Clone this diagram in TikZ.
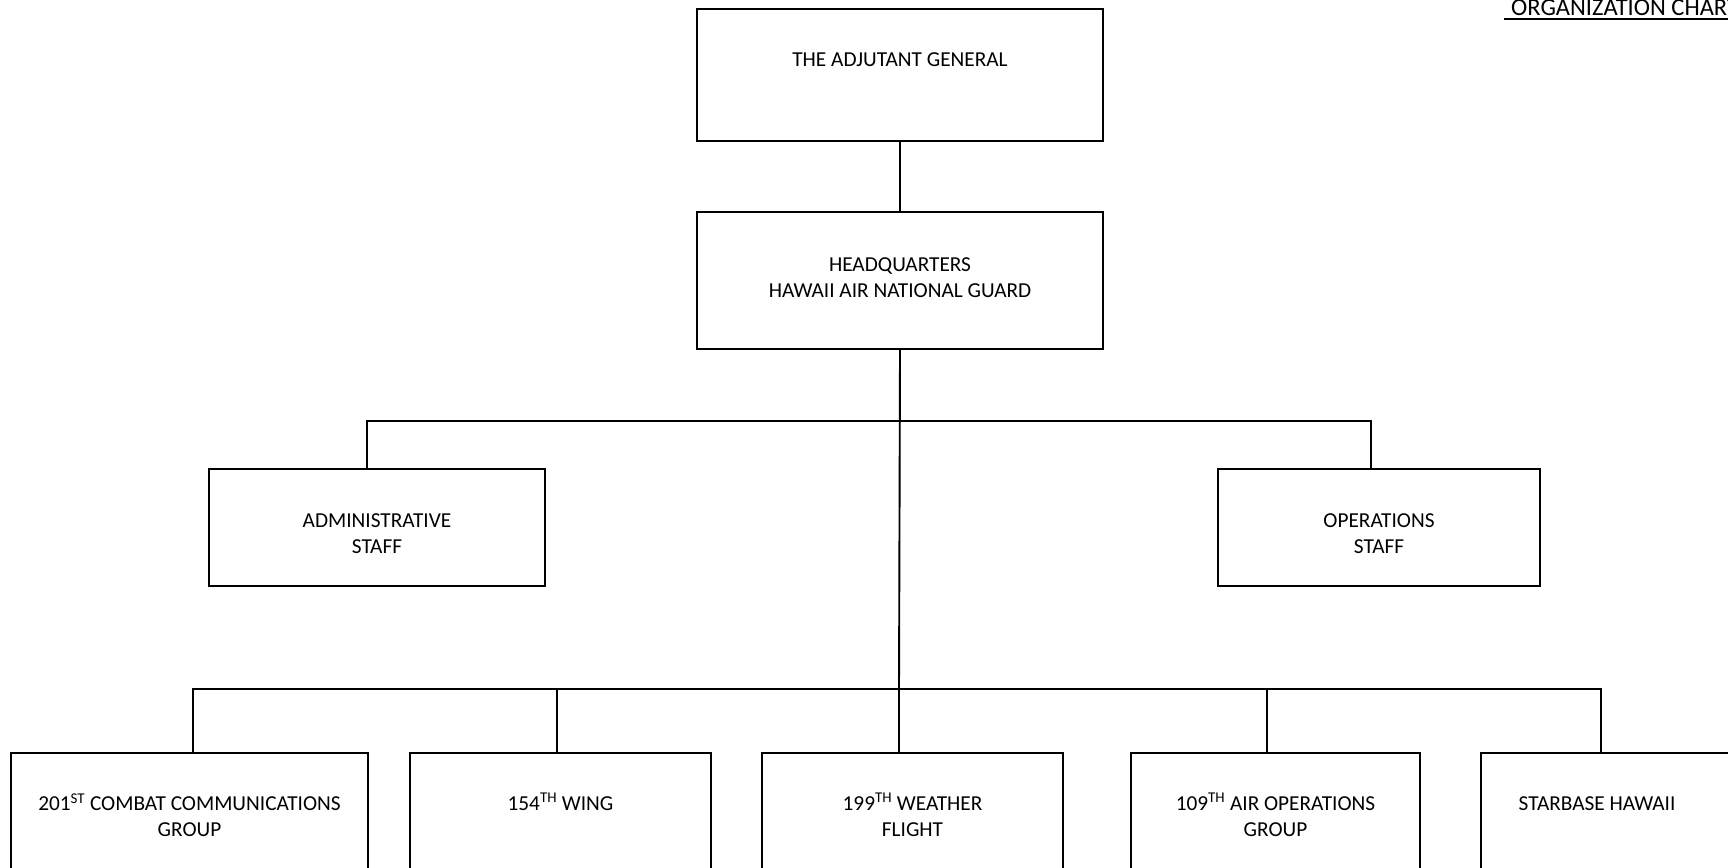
\documentclass[tikz,border=0pt]{standalone}
\usepackage{fontspec}
\setmainfont{Carlito}
\begin{document}
\begin{tikzpicture}[x=1pt,y=-1pt,
  font=\fontsize{21.3}{26}\selectfont,
  box/.style={draw=black, line width=1.7pt, inner sep=0pt, fill=none},
  lbl/.style={inner sep=0pt, align=center},
  wire/.style={draw=black, line width=1.9pt, line join=miter}]
\useasboundingbox (0,0) rectangle (1728,867);
\clip (0,0) rectangle (1728,867);

% title, running off the right edge of the sheet
\node[anchor=base west, inner sep=0pt, font=\fontsize{24.5}{29}\selectfont] (title) at (1511,16) {ORGANIZATION CHART};
\draw[line width=1.3pt] ([xshift=-7pt,yshift=-3pt]title.base west) -- ([xshift=20pt,yshift=-3pt]title.base east);

% upper levels
\node[box, minimum width=406, minimum height=132] (tag) at (900,75) {};
\node[box, minimum width=406, minimum height=137] (hq) at (900,280.5) {};
\node[box, minimum width=336, minimum height=117] (admin) at (377,527.5) {};
\node[box, minimum width=322, minimum height=117] (ops) at (1379,527.5) {};

\node[lbl] (tagtext) at (900,60) {THE ADJUTANT GENERAL};
\node[lbl] (hqtext) at (900,278) {HEADQUARTERS\\HAWAII AIR NATIONAL GUARD};
\node[lbl] (admintext) at (377,534) {ADMINISTRATIVE\\STAFF};
\node[lbl] (opstext) at (1379,534) {OPERATIONS\\STAFF};

% subordinate units (boxes continue below the sheet)
\node[box, minimum width=357, minimum height=152] (b1) at (189.5,829) {};
\node[box, minimum width=301, minimum height=152] (b2) at (560.5,829) {};
\node[box, minimum width=301, minimum height=152] (b3) at (912.5,829) {};
\node[box, minimum width=289, minimum height=152] (b4) at (1275.5,829) {};
\node[box, minimum width=300, minimum height=152] (b5) at (1631,829) {};

\node[lbl] (b1text) at (189.5,815) {201\textsuperscript{ST} COMBAT COMMUNICATIONS\\GROUP};
\node[lbl] (b2text) at (560.5,802) {154\textsuperscript{TH} WING};
\node[lbl] (b3text) at (912.5,815) {199\textsuperscript{TH} WEATHER\\FLIGHT};
\node[lbl] (b4text) at (1275.5,815) {109\textsuperscript{TH} AIR OPERATIONS\\GROUP};
\node[lbl] (b5text) at (1597,804) {STARBASE HAWAII};

% connectors
\coordinate (bus1) at (899,421);
\coordinate (bus2) at (899,689);
\draw[wire] (tag.south) -- (hq.north);
\draw[wire] (hq.south) -- (bus2);
\draw[wire] ([xshift=-10pt]admin.north) |- (bus1) -| ([xshift=-8pt]ops.north);
\draw[wire] ([xshift=3.5pt]b1.north) |- (bus2) -| ([xshift=-30pt]b5.north);
\draw[wire] ([xshift=-3.5pt]b2.north) |- (bus2);
\draw[wire] (bus2) -- (bus2 |- b3.north);
\draw[wire] ([xshift=-8.5pt]b4.north) |- (bus2);
\end{tikzpicture}
\end{document}
